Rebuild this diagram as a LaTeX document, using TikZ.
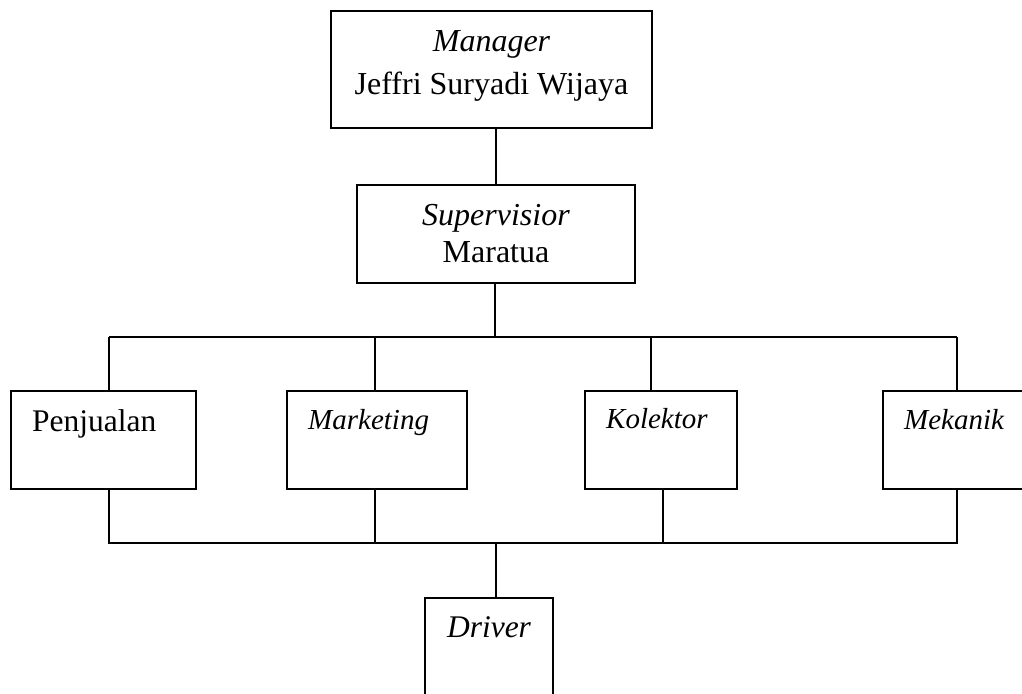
\documentclass[tikz,border=0pt]{standalone}
\usepackage{fontspec}
\setmainfont{Liberation Serif}
\begin{document}
\begin{tikzpicture}[x=1pt,y=-1pt,
  box/.style={draw,line width=1.8pt,inner sep=0pt},
  lbl/.style={inner sep=0pt},
  conn/.style={line width=1.8pt},
  big/.style={font=\fontsize{32}{38}\selectfont},
  mid/.style={font=\fontsize{31.5}{38}\selectfont},
  sml/.style={font=\fontsize{29}{35}\selectfont\itshape}]
\useasboundingbox (0,0) rectangle (1022,693);
\clip (0,0) rectangle (1022,693);
% boxes
\draw[box] (331,11) rectangle (652,128);
\coordinate (mgrS) at (496,128);
\draw[box] (357,185) rectangle (635,283);
\coordinate (supN) at (496,185);
\coordinate (supS) at (495,283);
\draw[box] (11,391) rectangle (196,489);
\draw[box] (287,391) rectangle (467,489);
\draw[box] (585,391) rectangle (737,489);
\draw[box] (883,391) rectangle (1040,489);
\draw[box] (425,598) rectangle (553,710);
% texts
\node[lbl,big,anchor=base] (mgr1) at (491.5,52) {\itshape Manager};
\node[lbl,big,anchor=base] (mgr2) at (491.5,94) {Jeffri Suryadi Wijaya};
\node[lbl,big,anchor=base] (sup1) at (496,225) {\itshape Supervisior};
\node[lbl,big,anchor=base] (sup2) at (496,262) {Maratua};
\node[lbl,mid,anchor=base west] (pen) at (32,431) {Penjualan};
\node[lbl,sml,anchor=base west] (mar) at (308,429) {Marketing};
\node[lbl,sml,anchor=base west] (kol) at (606,428) {Kolektor};
\node[lbl,sml,anchor=base west] (mek) at (904,429) {Mekanik};
\node[lbl,mid,anchor=base] (drv) at (489,637) {\itshape Driver};
% junctions
\coordinate (t0) at (495,337);
\coordinate (t1) at (109,337);
\coordinate (t2) at (375,337);
\coordinate (t3) at (651,337);
\coordinate (t4) at (957,337);
\coordinate (b1) at (109,543);
\coordinate (b2) at (375,543);
\coordinate (b3) at (663,543);
\coordinate (b4) at (957,543);
\coordinate (b0) at (496,543);
% connectors
\draw[conn] (mgrS) -- (supN);
\draw[conn] (supS) -- (t0);
\draw[conn] (t1) -- (t4);
\draw[conn] (t1) -- (109,391);
\draw[conn] (t2) -- (375,391);
\draw[conn] (t3) -- (651,391);
\draw[conn] (t4) -- (957,391);
\draw[conn] (109,489) -- (b1) -- (b4) -- (957,489);
\draw[conn] (375,489) -- (b2);
\draw[conn] (663,489) -- (b3);
\draw[conn] (b0) -- (496,598);
\end{tikzpicture}
\end{document}
